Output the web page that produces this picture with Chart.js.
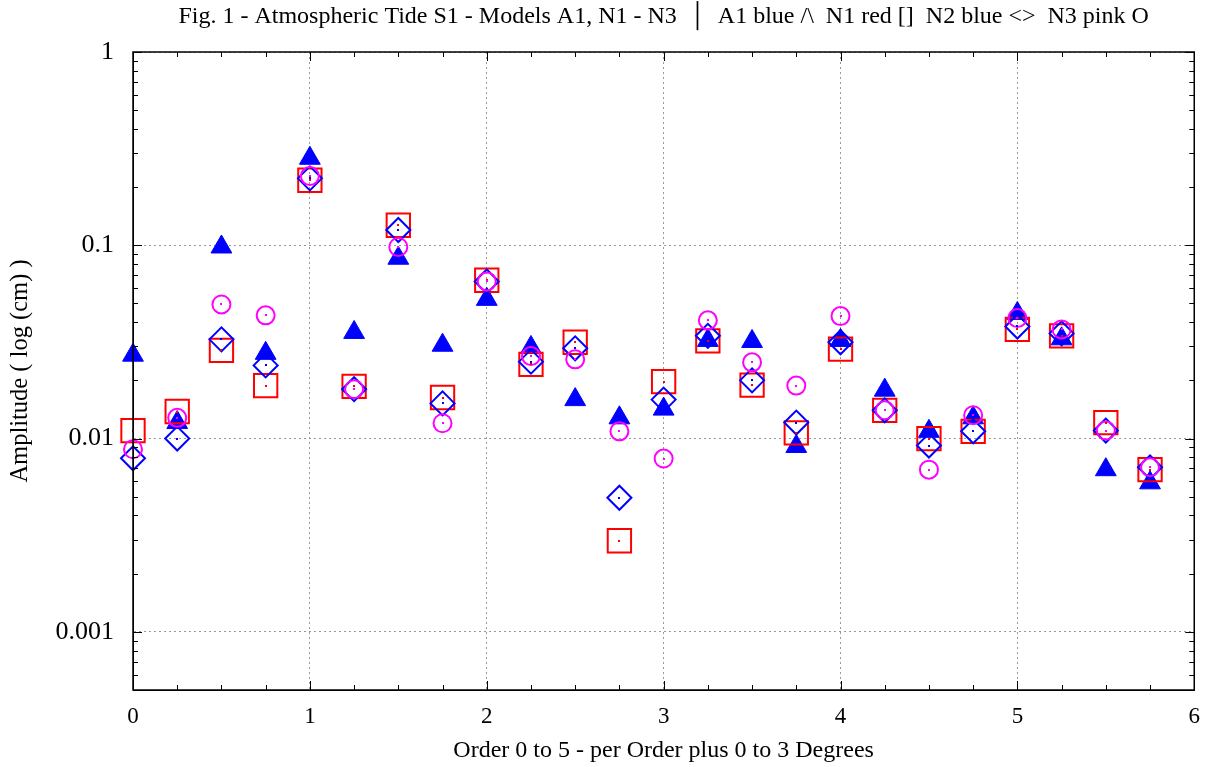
<!DOCTYPE html>
<html>
<head>
<meta charset="utf-8">
<script src="https://cdn.jsdelivr.net/npm/chart.js@4.4.1/dist/chart.umd.min.js"></script>
<style>
  html, body { margin: 0; padding: 0; background: #fff; }
  #wrap { width: 1213px; height: 767px; }
</style>
</head>
<body>
<div id="wrap"><canvas id="grafica"></canvas></div>
<script>
// Posicion en el eje x (orden + grado/4)
var posiciones = [0, 0.25, 0.5, 0.75, 1, 1.25, 1.5, 1.75, 2, 2.25, 2.5, 2.75,
                  3, 3.25, 3.5, 3.75, 4, 4.25, 4.5, 4.75, 5, 5.25, 5.5, 5.75];

// Amplitudes (cm)
var modeloA1 = [0.027, 0.0121, 0.098, 0.0276, 0.282, 0.0354, 0.0857, 0.0304, 0.0525, 0.0296, 0.0159, 0.0128,
                0.0142, 0.0322, 0.0318, 0.0091, 0.0322, 0.0178, 0.0109, 0.0128, 0.0444, 0.0328, 0.0069, 0.0059];
var modeloN1 = [0.011, 0.0138, 0.0286, 0.0188, 0.217, 0.0186, 0.127, 0.0163, 0.0659, 0.0242, 0.0315, 0.00296,
                0.0197, 0.032, 0.0189, 0.0107, 0.029, 0.014, 0.010, 0.0109, 0.0367, 0.034, 0.0121, 0.0069];
var modeloN2 = [0.0079, 0.010, 0.0326, 0.0239, 0.222, 0.018, 0.12, 0.0152, 0.065, 0.025, 0.0293, 0.00494,
                0.0159, 0.034, 0.020, 0.0121, 0.0315, 0.014, 0.0092, 0.0109, 0.038, 0.035, 0.011, 0.0071];
var modeloN3 = [0.0088, 0.0128, 0.0494, 0.0434, 0.228, 0.018, 0.098, 0.012, 0.065, 0.0267, 0.0257, 0.0109,
                0.00788, 0.0409, 0.0248, 0.0188, 0.043, 0.014, 0.0069, 0.0132, 0.042, 0.0367, 0.011, 0.0071];

var ticksY = [0.001, 0.01, 0.1, 1];
var ticksX = [0, 1, 2, 3, 4, 5, 6];

var fuente = 'Liberation Serif, Times New Roman, serif';

function puntos(valores) {
    return posiciones.map(function (x, i) { return { x: x, y: valores[i] }; });
}

// Puntito en el centro de cada marcador y marcas hacia adentro (estilo gnuplot)
var estiloGnuplot = {
    id: 'estiloGnuplot',
    afterDatasetsDraw: function (chart) {
        var ctx = chart.ctx;
        chart.data.datasets.forEach(function (ds, i) {
            if (ds.centro === false) return;
            var meta = chart.getDatasetMeta(i);
            ctx.save();
            ctx.fillStyle = ds.borderColor;
            meta.data.forEach(function (p) {
                ctx.fillRect(Math.round(p.x) - 1, Math.round(p.y) - 1, 2, 2);
            });
            ctx.restore();
        });
    },
    afterDraw: function (chart) {
        var ctx = chart.ctx, a = chart.chartArea;
        var sx = chart.scales.x, sy = chart.scales.y;
        ctx.save();
        ctx.strokeStyle = '#000';
        ctx.lineWidth = 1;
        ctx.beginPath();
        // eje x: mayores cada 1, menores cada 0.25
        for (var v = 0; v <= 6.001; v += 0.25) {
            var px = Math.round(sx.getPixelForValue(v)) + 0.5;
            var len = (Math.abs(v - Math.round(v)) < 1e-6) ? 9 : 5;
            ctx.moveTo(px, a.bottom); ctx.lineTo(px, a.bottom - len);
            ctx.moveTo(px, a.top); ctx.lineTo(px, a.top + len);
        }
        // eje y logaritmico
        for (var d = -4; d <= 0; d++) {
            for (var m = 1; m <= 9; m++) {
                var val = m * Math.pow(10, d);
                if (val < sy.min || val > sy.max) continue;
                var py = Math.round(sy.getPixelForValue(val)) + 0.5;
                var l = m === 1 ? 9 : 5;
                ctx.moveTo(a.left, py); ctx.lineTo(a.left + l, py);
                ctx.moveTo(a.right, py); ctx.lineTo(a.right - l, py);
            }
        }
        ctx.stroke();
        ctx.lineWidth = 1.5;
        ctx.strokeRect(a.left, a.top, a.right - a.left, a.bottom - a.top);
        ctx.restore();
    }
};

document.addEventListener('DOMContentLoaded', function () {
    var ctx = document.getElementById('grafica').getContext('2d');

    var datos = {
        datasets: [{
            label: 'A1',
            data: puntos(modeloA1),
            pointStyle: 'triangle',
            pointRadius: 12,
            backgroundColor: '#0000ff',
            borderColor: '#0000ff',
            borderWidth: 1,
            centro: false,
            order: 4
        }, {
            label: 'N1',
            data: puntos(modeloN1),
            pointStyle: 'rect',
            pointRadius: 16.5,
            backgroundColor: 'rgba(0,0,0,0)',
            borderColor: '#ff0000',
            borderWidth: 2,
            order: 3
        }, {
            label: 'N2',
            data: puntos(modeloN2),
            pointStyle: 'rectRot',
            pointRadius: 12,
            backgroundColor: 'rgba(0,0,0,0)',
            borderColor: '#0000ff',
            borderWidth: 2,
            order: 2
        }, {
            label: 'N3',
            data: puntos(modeloN3),
            pointStyle: 'circle',
            pointRadius: 9,
            backgroundColor: 'rgba(0,0,0,0)',
            borderColor: '#ff00ff',
            borderWidth: 2,
            order: 1
        }]
    };

    new Chart(ctx, {
        type: 'scatter',
        data: datos,
        plugins: [estiloGnuplot],
        options: {
            responsive: true,
            maintainAspectRatio: false,
            animation: false,
            clip: false,
            layout: { padding: { left: 0, right: 18, top: 0, bottom: 0 } },
            plugins: {
                legend: { display: false },
                tooltip: { enabled: false }
            },
            scales: {
                // eje superior solo para centrar el titulo sobre el area del grafico
                titulo: {
                    type: 'linear',
                    position: 'top',
                    min: 0,
                    max: 6,
                    afterFit: function (s) { s.height = 52; },
                    ticks: { display: false },
                    grid: { display: false, drawTicks: false },
                    border: { display: false },
                    title: {
                        display: true,
                        text: 'Fig. 1 - Atmospheric Tide S1 - Models A1, N1 - N3  \u2502  A1 blue /\\  N1 red []  N2 blue <>  N3 pink O',
                        color: '#000',
                        font: { family: fuente, size: 24, lineHeight: 1.15 },
                        padding: { top: 3, bottom: 0 }
                    }
                },
                x: {
                    type: 'linear',
                    min: 0,
                    max: 6,
                    afterBuildTicks: function (s) { s.ticks = ticksX.map(function (v) { return { value: v }; }); },
                    afterFit: function (s) { s.height = 77; },
                    ticks: { color: '#000', padding: 13, font: { family: fuente, size: 23 } },
                    grid: { color: '#999', drawTicks: false, lineWidth: 1 },
                    border: { display: true, color: '#000', dash: [2, 3] },
                    title: {
                        display: true,
                        text: 'Order 0 to 5 - per Order plus 0 to 3 Degrees',
                        color: '#000',
                        font: { family: fuente, size: 24 },
                        padding: { top: 6, bottom: 2 }
                    }
                },
                y: {
                    type: 'logarithmic',
                    min: 0.0005,
                    max: 1,
                    afterBuildTicks: function (s) { s.ticks = ticksY.map(function (v) { return { value: v }; }); },
                    afterFit: function (s) { s.width = 133; },
                    ticks: {
                        color: '#000',
                        padding: 19,
                        font: { family: fuente, size: 26 },
                        callback: function (v) { return String(v); }
                    },
                    grid: { color: '#999', drawTicks: false, lineWidth: 1 },
                    border: { display: true, color: '#000', dash: [2, 3] },
                    title: {
                        display: true,
                        text: 'Amplitude ( log (cm) )',
                        color: '#000',
                        font: { family: fuente, size: 24.5 },
                        padding: { top: 6, bottom: 0 }
                    }
                }
            }
        }
    });
});
</script>
</body>
</html>
